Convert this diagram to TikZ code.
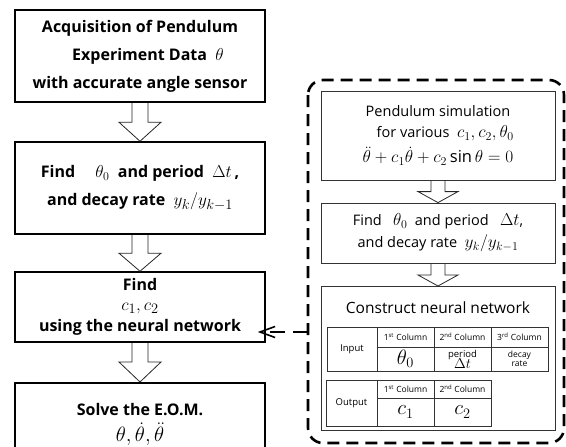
\documentclass[tikz,border=0pt]{standalone}
\usepackage{fontspec}
\setmainfont{Open Sans}
\usetikzlibrary{arrows.meta,calc,positioning}

\tikzset{
  stepbold/.style={draw,line width=1.5pt,minimum width=250pt,align=center,
    inner sep=0pt,font=\fontsize{16}{28}\selectfont\bfseries},
  simbox/.style={draw=black!80,line width=0.8pt,minimum width=234pt,align=center,
    inner sep=0pt,font=\fontsize{14.5}{22}\selectfont},
  blockarrow/.style={draw=black!85,line width=0.8pt},
  groupframe/.style={line width=2.6pt,dash pattern=on 12pt off 7pt,rounded corners=15pt},
  nnlink/.style={line width=2.4pt,dash pattern=on 15pt off 8pt,
    -{Straight Barb[length=15pt,width=11pt,line width=1.6pt]}},
  cell/.style={draw=black!80,line width=0.7pt},
  headtxt/.style={font=\fontsize{8.5}{9}\selectfont,inner sep=0pt},
  celltxt/.style={font=\fontsize{9.5}{10}\selectfont,align=center,inner sep=0pt},
  bigtxt/.style={font=\fontsize{20}{20}\selectfont,inner sep=0pt}
}
% math at a given size
\newcommand{\msize}[2]{{\fontsize{#1}{#1}\selectfont$#2$}}
% hollow down arrow: from, to, shaft half width, head half width, head length
\newcommand{\hollowarrow}[5]{%
  \draw[blockarrow] ($(#1.south)+(-#3,0)$) -- ($(#2.north)+(-#3,-#5)$)
    -- ($(#2.north)+(-#4,-#5)$) -- (#2.north) -- ($(#2.north)+(#4,-#5)$)
    -- ($(#2.north)+(#3,-#5)$) -- ($(#1.south)+(#3,0)$);}

\begin{document}
\begin{tikzpicture}[x=1pt,y=-1pt]
  \useasboundingbox (0,0) rectangle (566,447);

  % left column: experiment
  \node[stepbold,minimum height=92pt] (acq) at (140,56)
    {Acquisition of Pendulum\\ \quad Experiment Data \ \msize{19}{\theta}\\ with accurate angle sensor};
  \node[stepbold,minimum height=92pt] (findexp) at (140,188)
    {Find \quad \msize{17}{\theta_0} \ and period \ \msize{18}{\Delta t}\,,\\ and decay rate \ \msize{19}{y_k/y_{k-1}}};
  \node[stepbold,minimum height=70pt] (findc) at (140,307)
    {Find\\[-8pt] \msize{19}{c_1,c_2}\\[-7pt] using the neural network};
  \node[stepbold,minimum height=84pt,anchor=north] (solve) at (140,382)
    {Solve the E.O.M.\\[-2pt] \msize{21}{\theta,\dot\theta,\ddot\theta}};

  \hollowarrow{acq}{findexp}{8}{21}{19}
  \hollowarrow{findexp}{findc}{8}{21}{18}
  \hollowarrow{findc}{solve}{8}{21}{20}

  % right column: simulation
  \draw[groupframe] (308,80) rectangle (564,443);
  \node[simbox,minimum height=89pt] (sim) at (438,135.5)
    {Pendulum simulation\\[-1pt] \quad for various \ \msize{18}{c_1,c_2,\theta_0}\\[3pt]
     \msize{16.5}{\ddot\theta+c_1\dot\theta+c_2\sin\theta=0}};
  \node[simbox,minimum height=60pt] (findsim) at (438,233)
    {Find \ \ \msize{17}{\theta_0} \ and period \ \ \msize{18}{\Delta t},\\[0pt] and decay rate \ \msize{18}{y_k/y_{k-1}}};
  \node[simbox,minimum height=144pt,anchor=north] (nnet) at (438,286) {};
  \node[font=\fontsize{15.5}{16}\selectfont] (nntitle) at (438,308) {Construct neural network};

  \hollowarrow{sim}{findsim}{7}{20}{11}
  \hollowarrow{findsim}{nnet}{7}{20}{11}

  % input table
  \draw[cell] (327,327) rectangle (548,371);
  \draw[cell] (377,347) -- (548,347);
  \foreach \cx in {377,434,491}
    \draw[cell] (\cx,327) -- (\cx,371);
  \node[celltxt] (inlab) at (352,349) {Input};
  \node[headtxt] (in1) at (405.5,337) {1\textsuperscript{st} Column};
  \node[headtxt] (in2) at (462.5,337) {2\textsuperscript{nd} Column};
  \node[headtxt] (in3) at (519.5,337) {3\textsuperscript{rd} Column};
  \node[bigtxt] (intheta) at (405.5,359) {$\theta_0$};
  \node[celltxt] (inperiod) at (462.5,359) {period\\[-2pt]\msize{15}{\Delta t}};
  \node[celltxt,font=\fontsize{8.5}{8.5}\selectfont] (indecay) at (519.5,359) {decay\\rate};

  % output table
  \draw[cell] (326,380) rectangle (491,426);
  \draw[cell] (377,398) -- (491,398);
  \foreach \cx in {377,434}
    \draw[cell] (\cx,380) -- (\cx,426);
  \node[celltxt] (outlab) at (351.5,403) {Output};
  \node[headtxt] (out1) at (405.5,389) {1\textsuperscript{st} Column};
  \node[headtxt] (out2) at (462.5,389) {2\textsuperscript{nd} Column};
  \node[bigtxt] (outc1) at (405.5,412) {$c_1$};
  \node[bigtxt] (outc2) at (462.5,412) {$c_2$};

  % link from the network to the left column
  \coordinate (nnout) at (308,332);
  \draw[nnlink,shorten >=-8pt] (nnout) -- (findc.east |- nnout);
\end{tikzpicture}
\end{document}
